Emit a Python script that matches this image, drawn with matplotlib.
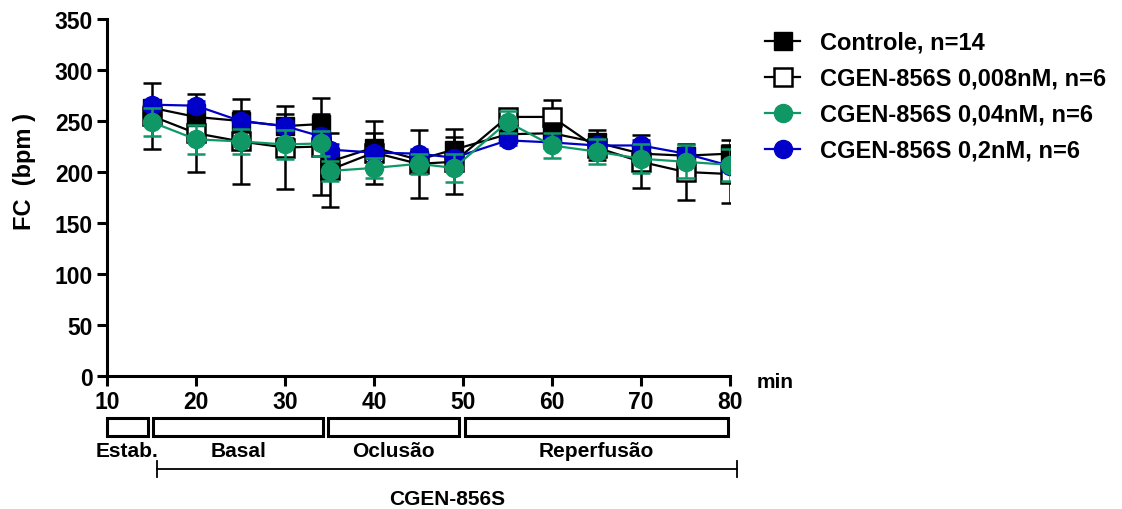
import matplotlib
matplotlib.use("Agg")
import matplotlib.pyplot as plt
import matplotlib.transforms as mtransforms
from matplotlib.patches import Rectangle

plt.rcParams['font.family'] = ['Liberation Sans', 'DejaVu Sans']
plt.rcParams['font.weight'] = 'bold'

# tempo (min)
tempo = [15, 20, 25, 30, 34, 35, 40, 45, 49, 55, 60, 65, 70, 75, 80]

# FC média e EPM de cada grupo
controle = [263, 254, 250, 245, 247, 210, 224, 212, 222, 237, 238, 229, 218, 216, 218]
controle_epm = [8, 8, 10, 12, 10, 10, 14, 10, 12, 8, 10, 12, 8, 8, 13]

cgen_008 = [255, 238, 230, 224, 225, 202, 219, 208, 210, 254, 254, 224, 210, 200, 198]
cgen_008_epm = [32, 38, 42, 41, 48, 36, 31, 33, 32, 8, 17, 12, 26, 27, 28]

cgen_04 = [249, 232, 230, 227, 228, 201, 204, 208, 204, 249, 226, 220, 213, 210, 207]
cgen_04_epm = [14, 14, 12, 14, 12, 10, 10, 10, 14, 11, 12, 12, 14, 16, 16]

cgen_2 = [266, 265, 250, 245, 235, 222, 219, 218, 214, 231, 229, 226, 226, 218, 206]
cgen_2_epm = [5, 5, 5, 5, 5, 5, 5, 5, 5, 5, 5, 5, 5, 5, 5]

rotulos = ['Controle, n=14', 'CGEN-856S 0,008nM, n=6',
           'CGEN-856S 0,04nM, n=6', 'CGEN-856S 0,2nM, n=6']

# fases do protocolo
fases = ['Estab.', 'Basal', 'Oclusão', 'Reperfusão']
fase_ini = [10, 15.2, 34.8, 50.2]
fase_fim = [14.6, 34.3, 49.6, 79.8]

verde = '#0F9866'
azul = '#0000C8'

fig = plt.figure(figsize=(11.22, 5.10), dpi=100)
ax = fig.add_axes([107 / 1122, 133 / 510, 623 / 1122, 357 / 510])

lw = 1.8
ms = 13

# ordem de desenho: branco, controle, azul, verde
ax.errorbar(tempo, cgen_008, yerr=cgen_008_epm, fmt='none', ecolor='black',
            elinewidth=lw, capsize=6.5, capthick=lw, zorder=2)
ax.plot(tempo, cgen_008, color='black', lw=1.6, marker='s', ms=ms,
        mfc='white', mec='black', mew=1.8, zorder=3, label=rotulos[1])

ax.errorbar(tempo, controle, yerr=controle_epm, fmt='none', ecolor='black',
            elinewidth=lw, capsize=6.5, capthick=lw, zorder=4)
ax.plot(tempo, controle, color='black', lw=1.6, marker='s', ms=ms,
        mfc='black', mec='black', zorder=5, label=rotulos[0])

ax.errorbar(tempo, cgen_2, yerr=cgen_2_epm, fmt='none', ecolor=azul,
            elinewidth=lw, capsize=6.5, capthick=lw, zorder=6)
ax.plot(tempo, cgen_2, color=azul, lw=1.6, marker='o', ms=ms,
        mfc=azul, mec=azul, zorder=7, label=rotulos[3])

ax.errorbar(tempo, cgen_04, yerr=cgen_04_epm, fmt='none', ecolor=verde,
            elinewidth=lw, capsize=6.5, capthick=lw, zorder=8)
ax.plot(tempo, cgen_04, color=verde, lw=1.6, marker='o', ms=ms,
        mfc=verde, mec=verde, zorder=9, label=rotulos[2])

ax.set_xlim(10, 80)
ax.set_ylim(0, 350)
ax.set_xticks(range(10, 81, 10))
ax.set_yticks(range(0, 351, 50))
for s in ['top', 'right']:
    ax.spines[s].set_visible(False)
for s in ['left', 'bottom']:
    ax.spines[s].set_linewidth(2.2)
ax.tick_params(width=2.2, length=7, labelsize=16.5, pad=3)
for lab in ax.get_xticklabels() + ax.get_yticklabels():
    lab.set_fontweight('bold')

fig.text(25 / 1122, 1 - 172 / 510, 'FC  (bpm )', rotation=90, ha='center',
         va='center', fontsize=17, fontweight='bold')
fig.text(757 / 1122, 1 - 383 / 510, 'min', ha='left', va='center',
         fontsize=15, fontweight='bold')

# legenda
h, l = ax.get_legend_handles_labels()
hmap = dict(zip(l, h))
leg = fig.legend([hmap[r] for r in rotulos], rotulos, loc='upper left',
                 bbox_to_anchor=(765 / 1122, 1 - 32 / 510), frameon=False,
                 fontsize=17, handlelength=1.5, handletextpad=0.85,
                 labelspacing=0.55, borderpad=0, borderaxespad=0)
for t in leg.get_texts():
    t.set_fontweight('bold')

# caixas das fases
trans = mtransforms.blended_transform_factory(ax.transData, ax.transAxes)
y0 = (377 - 437) / 357
y1 = (377 - 419) / 357
for nome, a, b in zip(fases, fase_ini, fase_fim):
    ax.add_patch(Rectangle((a, y0), b - a, y1 - y0, transform=trans,
                           fill=False, lw=2.2, ec='black', clip_on=False))
    ax.text((a + b) / 2, (377 - 452) / 357, nome, transform=trans,
            ha='center', va='center', fontsize=15, fontweight='bold')

# barra do tratamento
yb = (377 - 470) / 357
ax.plot([15.6, 80.8], [yb, yb], color='black', lw=1.3, transform=trans,
        clip_on=False)
for xx in [15.6, 80.8]:
    ax.plot([xx, xx], [(377 - 462) / 357, (377 - 478) / 357], color='black',
            lw=1.3, transform=trans, clip_on=False)
ax.text(48.2, (377 - 500) / 357, 'CGEN-856S', transform=trans, ha='center',
        va='center', fontsize=15, fontweight='bold')

fig.savefig('out.png', dpi=100)
